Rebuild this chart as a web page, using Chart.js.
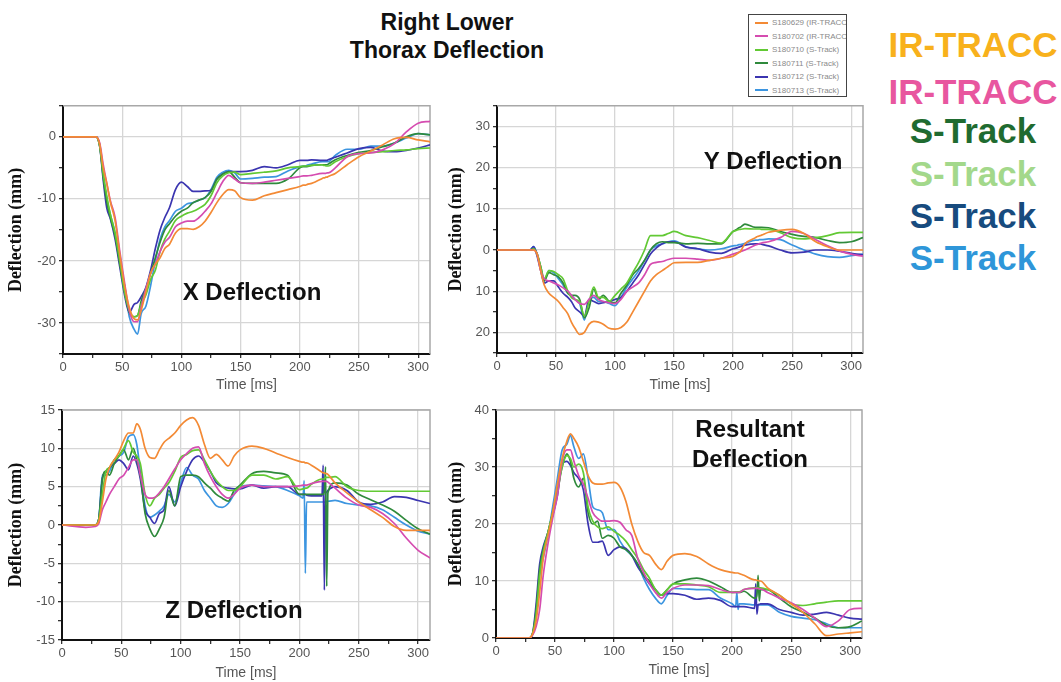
<!DOCTYPE html>
<html>
<head>
<meta charset="utf-8">
<script src="https://cdn.jsdelivr.net/npm/chart.js@4.4.1/dist/chart.umd.min.js"></script>
<style>
  body { margin: 0; background: #fff; width: 1061px; height: 682px; position: relative; overflow: hidden;
         font-family: "Liberation Sans", Arial, sans-serif; }
  #title { position: absolute; left: 297px; top: 8px; width: 300px; text-align: center;
           font-weight: bold; font-size: 23px; line-height: 28px; color: #111; }
  #legend { position: absolute; left: 748px; top: 14px; width: 99px; height: 83px; border: 1.5px solid #444;
            background: #fff; overflow: hidden; padding-top: 1px; box-sizing: border-box; }
  #legend .item { height: 13.5px; line-height: 13.5px; font-size: 8px; color: #8a8a8a; white-space: nowrap; }
  #legend .sw { display: inline-block; width: 13px; height: 2px; margin: 0 4px 0 6px; vertical-align: middle; }
  .tag { position: absolute; left: 873px; width: 200px; text-align: center; font-weight: bold;
         font-size: 35px; line-height: 35px; white-space: nowrap; }
</style>
</head>
<body>
<div id="title">Right Lower<br>Thorax Deflection</div>
<div id="legend"></div>

<script>
// time base shared by every trace (ms)
const time = [0,20,28,31,34,37,40,44,48,52,
  56,60,63,66,70,74,78,82,86,90,
  95,100,105,110,115,120,125,130,135,140,
  145,150,160,170,180,190,200,
  203,204,205,206,
  210,
  219,220,221,222,223,224,
  230,240,250,260,270,280,290,300,310];

const seriesNames = ['S180629 (IR-TRACC)','S180702 (IR-TRACC)','S180710 (S-Track)',
  'S180711 (S-Track)','S180712 (S-Track)','S180713 (S-Track)'];
const seriesColors = ['#f38a35','#d54cb0','#62c934','#2f8a3c','#3b35b0','#3c95e0'];

// X deflection
const xOrange = [0,0,0,-1.2,-5,-7.5,-10.5,-13.5,-19,-24,
  -27.5,-29.3,-29.5,-28,-25,-22,-20.5,-19.5,-18,-17.3,
  -15.5,-14.8,-14.8,-14.9,-14.5,-13.6,-12.2,-10.6,-9.3,-8.5,
  -8.7,-9.8,-10.2,-9.5,-9,-8.5,-8,
  -7.8,-7.8,-7.8,-7.7,
  -7.5,
  -6.7,-6.6,-6.6,-6.5,-6.5,-6.4,
  -5.9,-4.5,-3.2,-2.3,-1.3,-0.3,-0.1,-0.5,-0.8];
const xMagenta = [0,0,0,-1,-4.5,-7.5,-10.3,-13,-18.5,-23.5,
  -28,-29.8,-29.8,-27.5,-24.5,-22,-20.5,-18.5,-17,-16.2,
  -14.5,-13.9,-13.6,-13.6,-13,-12,-10.8,-9,-7.2,-6.2,
  -6.8,-7.4,-7.5,-7.3,-7,-6.7,-6.4,
  -6.3,-6.3,-6.3,-6.3,
  -6.2,
  -5.9,-5.9,-5.9,-5.9,-5.8,-5.8,
  -5,-3.2,-2.7,-2.6,-2.1,-1.1,0.8,2.2,2.5];
const xGreen = [0,0,0,-1.5,-6,-9.5,-12.5,-15.5,-20,-25,
  -28,-29,-28.8,-27,-25.5,-23,-21.5,-18.5,-16.5,-15.2,
  -13.5,-12.8,-12.3,-12,-11.5,-10.9,-9.5,-7.4,-6.3,-5.8,
  -5.7,-6.1,-5.9,-5.7,-5.5,-5,-4.8,
  -4.7,-4.7,-4.7,-4.7,
  -4.6,
  -4.5,-4.6,-4.6,-4.7,-4.7,-4.7,
  -4,-3.2,-2.7,-2.5,-2.4,-2.2,-2.1,-1.9,-1.8];
const xDkGreen = [0,0,0,-1.5,-6.5,-10.5,-13,-16,-20.5,-25,
  -28.3,-29,-28.8,-26.5,-24.5,-22,-19.5,-17,-15,-14,
  -12.8,-12,-11.5,-10.6,-10.2,-9.8,-8.8,-6.8,-6,-5.6,
  -6.5,-7.4,-7.5,-7.5,-7.5,-6.8,-5,
  -4.8,-4.8,-4.8,-4.8,
  -4.6,
  -4.5,-4.5,-4.5,-4.5,-4.5,-4.4,
  -3.7,-3,-2.5,-2.2,-1.6,-1,0,0.5,0.3];
const xIndigo = [0,0,0,-1.5,-7,-11.5,-13.2,-16.5,-21,-25.5,
  -28.3,-27,-26.7,-25.8,-24.3,-21.5,-18,-15,-13,-11.4,
  -8.5,-7.3,-8,-8.8,-8.8,-8.7,-8.6,-6.8,-6,-5.6,
  -5.6,-5.6,-5.4,-4.8,-5,-4.5,-3.8,
  -3.8,-3.8,-3.8,-3.8,
  -3.7,
  -3.8,-3.8,-3.8,-3.8,-3.8,-3.7,
  -3.3,-2.6,-1.9,-1.7,-2.3,-2.4,-2.2,-1.8,-1.3];
const xBlue = [0,0,0,-1.3,-6,-10,-12.5,-15.5,-20,-24,
  -29,-31,-31.8,-28.5,-27.3,-24,-20,-16.5,-14.5,-13.5,
  -12,-11.5,-10.8,-10.6,-10.2,-9.8,-8.5,-6.5,-5.7,-5.4,
  -5.8,-6.8,-6.7,-6.5,-6.4,-5.5,-4.8,
  -4.7,-4.7,-4.7,-4.6,
  -4.4,
  -4,-4,-4,-4,-4,-4,
  -3,-2,-2,-1.5,-1.5,-1,-0.2,0.5,0.3];

// Y deflection
const yOrange = [0,0,0,0,-1,-5,-8.5,-10.5,-11.5,-12.5,
  -14,-15.5,-17.5,-19,-20.5,-20,-18,-17.3,-17.5,-18,
  -19,-19.2,-18.8,-17.5,-15,-12.5,-10,-7.5,-6,-5,
  -4,-3.1,-3,-3,-2.5,-2,-1.5,
  -1,-0.8,-0.6,-0.4,
  1.5,
  3,3.2,3.3,3.4,3.5,3.6,
  4.3,4.8,5,4,2,0.8,0,0,0];
const yMagenta = [0,0,0,0,-1,-5,-7,-7.5,-8,-8.5,
  -9.2,-10,-11,-12,-13,-13.2,-12,-11,-12,-12.5,
  -12.8,-13,-12,-10,-9,-8,-6,-3.5,-3,-2.8,
  -2.3,-2,-2,-2.2,-2.5,-2,-1,
  -0.7,-0.6,-0.5,-0.4,
  0,
  1.2,1.3,1.4,1.5,1.6,1.7,
  2,3,4.5,4,2.5,1,-0.2,-1,-1.5];
const yGreen = [0,0,0,0.3,-1,-4,-7,-5,-5.2,-6,
  -7,-10,-11.5,-12,-12.5,-16,-12.5,-9,-11.5,-11.5,
  -12.5,-11,-9.5,-8,-5.5,-3,0,3.5,3.5,3.5,
  4,4.5,3.5,3,2.3,1.7,4.5,
  4.8,4.9,5,5,
  5.2,
  5.1,5.1,5.1,5.1,5.1,5,
  5,4.2,3,2.7,3,3.5,4.2,4.3,4.3];
const yDkGreen = [0,0,0,0.3,-1,-4,-7.5,-5.5,-6,-6.5,
  -8,-10.5,-11,-11,-12,-16.5,-14,-9.5,-12,-11,
  -12.5,-12.8,-10.5,-8.5,-6,-4.5,-2.5,0,1.5,2,
  1.8,1.8,1.5,1.6,1.5,1.5,4.5,
  5,5.2,5.4,5.5,
  6.3,
  5.5,5.5,5.5,5.5,5.5,5.5,
  5.4,4.5,3.8,3.3,3,2.3,1.8,2,3];
const yIndigo = [0,0,0,0.8,-1.5,-5,-8,-7.5,-7.5,-9,
  -10.5,-11.5,-12.5,-14,-15,-16,-12,-12.5,-13,-12.8,
  -12.5,-12,-11.5,-10,-8,-6,-3.5,-1,0.5,1.5,
  2,2,0.7,0.3,-0.5,-0.8,0.3,
  0.5,0.6,0.7,0.8,
  1.2,
  1.5,1.5,1.5,1.5,1.5,1.4,
  1,0,-0.7,-0.5,0,0,-0.3,-0.8,-1.2];
const yBlue = [0,0,0,0.8,-1,-4.5,-7.5,-5,-5.5,-7,
  -8.5,-10.5,-11,-12,-13,-17,-12,-11.5,-12.5,-12.5,
  -13,-13.5,-11.5,-9,-7,-5,-2.5,0,1,1.5,
  2,2.2,0.8,0.3,0,0.3,1,
  1.1,1.2,1.3,1.3,
  1.6,
  2.4,2.4,2.4,2.5,2.5,2.5,
  2.7,2.5,1.2,0,-1,-1.6,-1.8,-1.4,-1];

// Z deflection
const zOrange = [0,0,0,0.5,3,6,7.5,8.5,9.5,11,
  12,12,13.2,12.5,10,8.8,8.7,9.8,10.8,11.3,
  12,13,13.7,14,13,10.5,8.7,9.2,8.5,7.7,
  9,9.8,10.3,10,9.4,8.8,8.3,
  8.2,8.2,8.1,8.1,
  7.8,
  6.9,6.8,6.8,6.7,6.7,6.6,
  5.5,4.2,3,2,1,-0.2,-0.7,-0.7,-0.7];
const zMagenta = [0,-0.3,-0.2,0.2,2,3,4,5,6,6.5,
  7.5,8.5,8.5,6.5,4,3.5,3.6,4.2,5,6,
  7.3,8.5,9.3,10,10.2,8,6.3,5,4,3.5,
  4,4.8,5.2,5,5,5,5.1,
  5.2,5.2,5.2,5.2,
  5.4,
  5.7,5.7,5.7,5.7,5.7,5.6,
  4.8,3.5,2.6,2.3,1.5,0.2,-1.7,-3.3,-4.3];
const zGreen = [0,0,0,0.7,4,7,7.5,8.5,9,10,
  11,9.5,9,8,4,2.5,3.5,4,4.8,5.5,
  7,8.8,9.2,9.7,9.8,8.5,7,5.8,5,4.5,
  4.5,5,6.5,6.5,6,6.3,4.6,
  4.7,4.7,4.8,4.8,
  5.3,
  6,6,6,6.2,6.2,6.2,
  6.3,5,4.5,4.4,4.4,4.4,4.4,4.4,4.4];
const zDkGreen = [0,0,0,0.8,6,7,6.5,8,9,9.8,
  8.5,10,8.5,6.5,1.5,-0.5,-1.5,-0.5,1,4.5,
  2.5,6.3,6.5,6.5,6.3,5.5,4.8,4,3.5,3.1,
  4.5,5.2,6.7,7,6.8,6.5,4,
  4,4,4,4,
  4,
  4,4,4.3,7.6,-8,4.2,
  5.5,5.2,4,3.3,2.6,1.8,0.6,-0.5,-1.2];
const zIndigo = [0,0,0,0.8,6,7,7.5,8,8.5,8,
  7.2,9,8,6,2,1,0.2,1.5,2,5,
  2.5,5,7,8.5,9,8.2,7,5.5,5,4.8,
  4.7,4.7,5.2,4.8,5,5,4,
  4,4,4,3.9,
  3.8,
  3.8,7.8,-8.5,4,4.3,4.5,
  5,4.5,3,2.7,3,3.7,3.6,3.2,2.8];
const zBlue = [0,0,0,0.8,6.5,6.5,7,8.5,9,9.5,
  11.5,11.8,10.5,7,2.5,1,1.3,1.8,2.5,4,
  3,5.5,7.5,6.5,6,4.5,3.5,2.5,2.3,2.8,
  4,5,5.2,5.1,5,4.5,3.8,
  3.5,5.8,-6.3,3,
  3,
  3,3,3,3,3.1,3.1,
  3.2,2.8,2.6,2.5,2,1,0,-0.8,-1.2];

// Resultant deflection
const rOrange = [0,0,0,0.7,3,8,14,18,22,27,
  31.5,34.5,35.8,35,33.5,31,28.5,27.2,27,27,
  27.2,27.3,26.5,24,20,17,15,14.5,13,12,
  13.5,14.5,14.8,14.3,13,12,11.5,
  11.4,11.4,11.4,11.3,
  11,
  10.2,10.2,10.1,10.1,10,10,
  8.8,7.5,6,4.5,2.5,0.4,0.7,0.9,1.1];
const rMagenta = [0,0,0,0.5,2,5,11,16.5,21,25,
  31,33,33,31,28.5,27,24.5,22,21,20.5,
  20.5,20.6,20.3,19,18,14,11.5,9.5,8,7,
  8,8.7,9.3,9.3,9.2,8.5,8,
  8,8,8,8,
  8.5,
  8.7,8.7,8.7,8.7,8.6,8.6,
  8,7,6.2,5,3.5,2,3,5,5.2];
const rGreen = [0,0,0,0.8,4,11,15,18.5,22,25.5,
  30,32,31.5,30,30.5,29,23,20.5,19.5,19.2,
  19.5,18.7,18,17,15.5,14,12,10.5,8.5,7.5,
  8.5,9.5,9.5,9.3,9,8,8,
  8.1,8.1,8.1,8.1,
  8.5,
  8.8,8.8,8.8,8.8,8.8,8.8,
  8.5,7.5,6,5.7,6,6.3,6.5,6.5,6.5];
const rDkGreen = [0,0,0,0.8,5,12,15.5,18.5,22,26,
  30,32.3,31,28,26.5,28,22,20,20.5,17.5,
  18,17.5,16,15.5,14.5,13,11,10,8.5,7.5,
  8.5,9.5,10.2,10.5,10,9,8,
  8,8,8,8,
  8.2,
  7,7,7.5,11,6.5,8.5,
  8.5,7,5.5,4.5,3.5,2.2,1.8,2,3];
const rIndigo = [0,0,0,0.8,6,13,16,18.5,21.5,25,
  30.5,31,30.3,29,28,26,20,16.8,16.8,17,
  14.5,15.5,16,15.7,14.5,12.5,11,9.5,8.5,7.5,
  7.8,7.8,7.5,6.8,7,6.6,5.5,
  5.5,5.5,5.5,5.5,
  5.5,
  5.2,9.5,4.2,5.8,5.9,6,
  6,5,4.5,4,4.2,4.5,4,3.5,3.3];
const rBlue = [0,0,0,0.7,4,11,14,18,23,28,
  33,34,35.5,33.5,31.5,32.3,28,23,22.5,22,
  19,19,17,15.5,14.5,13,10.5,8.5,7,6,
  7.5,8.7,8.6,8.5,8.5,7,6,
  5.5,8,5,6,
  6,
  5.8,5.8,5.8,5.8,5.8,5.8,
  5.8,4.5,3.8,3.5,3.2,2.5,1.8,1.8,1.8];

// axis ticks (minor + labelled)
const timeTicks = [0,25,50,75,100,125,150,175,200,225,250,275,300];
const timeLabels = [0,50,100,150,200,250,300];
const xDefTicks = [-35,-30,-25,-20,-15,-10,-5,0,5];
const xDefLabels = [-30,-20,-10,0];
const yDefTicks = [-25,-20,-15,-10,-5,0,5,10,15,20,25,30,35];
const yDefLabels = [-20,-10,0,10,20,30];
const zDefTicks = [-15,-12.5,-10,-7.5,-5,-2.5,0,2.5,5,7.5,10,12.5,15];
const zDefLabels = [-15,-10,-5,0,5,10,15];
const rDefTicks = [0,5,10,15,20,25,30,35,40];
const rDefLabels = [0,10,20,30,40];

const tagTexts = ['IR-TRACC','IR-TRACC','S-Track','S-Track','S-Track','S-Track'];
const tagColors = ['#f8b11c','#e8569f','#1f6b30','#a3d88b','#174b7e','#2e96d9'];
const tagTops = [27, 74, 113, 156, 198, 240];

// legend box
const legend = document.getElementById('legend');
seriesNames.forEach((n, i) => {
  const d = document.createElement('div');
  d.className = 'item';
  d.innerHTML = `<span class="sw" style="background:${seriesColors[i]}"></span>${n}`;
  legend.appendChild(d);
});

// coloured sensor tags on the right
tagTexts.forEach((t, i) => {
  const d = document.createElement('div');
  d.className = 'tag';
  d.style.top = tagTops[i] + 'px';
  d.style.color = tagColors[i];
  d.textContent = t;
  document.body.appendChild(d);
});

const panels = [
  { left: 0, top: 95, w: 440, h: 300, padTop: 8, padRight: 10, yW: 63, xH: 41, tPad: 1,
    yMin: -35, yMax: 5, yTicks: xDefTicks, yLabels: xDefLabels, abs: false,
    series: [xOrange, xMagenta, xGreen, xDkGreen, xIndigo, xBlue],
    note: ['X Deflection'], noteX: 252, noteY: 196 },
  { left: 440, top: 95, w: 440, h: 300, padTop: 8, padRight: 17, yW: 57, xH: 42, tPad: 1,
    yMin: -25, yMax: 35, yTicks: yDefTicks, yLabels: yDefLabels, abs: true,
    series: [yOrange, yMagenta, yGreen, yDkGreen, yIndigo, yBlue],
    note: ['Y Deflection'], noteX: 333, noteY: 65 },
  { left: 0, top: 395, w: 440, h: 287, padTop: 15, padRight: 10, yW: 62, xH: 42, tPad: 0,
    yMin: -15, yMax: 15, yTicks: zDefTicks, yLabels: zDefLabels, abs: false,
    series: [zOrange, zMagenta, zGreen, zDkGreen, zIndigo, zBlue],
    note: ['Z Deflection'], noteX: 234, noteY: 214 },
  { left: 440, top: 395, w: 440, h: 287, padTop: 15, padRight: 18, yW: 56, xH: 44, tPad: 3,
    yMin: 0, yMax: 40, yTicks: rDefTicks, yLabels: rDefLabels, abs: false,
    series: [rOrange, rMagenta, rGreen, rDkGreen, rIndigo, rBlue],
    note: ['Resultant', 'Deflection'], noteX: 310, noteY: 33 }
];

// light frame on top/right + the big panel caption
const framePlugin = {
  id: 'frame',
  beforeDatasetsDraw(chart) {
    const a = chart.chartArea, c = chart.ctx;
    c.save();
    c.strokeStyle = '#a8a8a8';
    c.lineWidth = 1.5;
    c.beginPath();
    c.moveTo(a.left, a.top);
    c.lineTo(a.right, a.top);
    c.lineTo(a.right, a.bottom);
    c.stroke();
    c.restore();
  },
  afterDatasetsDraw(chart, args, opts) {
    const c = chart.ctx;
    c.save();
    c.font = 'bold 24px "Liberation Sans", Arial, sans-serif';
    c.fillStyle = '#111';
    c.textAlign = 'center';
    c.textBaseline = 'alphabetic';
    opts.lines.forEach((t, i) => c.fillText(t, opts.x, opts.y + 8.6 + i * 30));
    c.restore();
  }
};

const tickFont = { family: 'Liberation Sans', size: 13 };

panels.forEach(p => {
  const cv = document.createElement('canvas');
  cv.width = p.w;
  cv.height = p.h;
  cv.style.cssText = `position:absolute;left:${p.left}px;top:${p.top}px;width:${p.w}px;height:${p.h}px`;
  document.body.appendChild(cv);

  new Chart(cv, {
    type: 'line',
    data: {
      datasets: p.series.map((vals, i) => ({
        label: seriesNames[i],
        data: time.map((t, k) => ({ x: t, y: vals[k] })),
        borderColor: seriesColors[i],
        borderWidth: 1.7,
        pointRadius: 0,
        fill: false,
        cubicInterpolationMode: 'monotone'
      }))
    },
    options: {
      responsive: false,
      animation: false,
      layout: { padding: { left: 0, top: p.padTop, right: p.padRight, bottom: 0 } },
      plugins: {
        legend: { display: false },
        tooltip: { enabled: false },
        frame: { lines: p.note, x: p.noteX, y: p.noteY }
      },
      scales: {
        x: {
          type: 'linear', min: 0, max: 310,
          afterBuildTicks: s => { s.ticks = timeTicks.map(v => ({ value: v })); },
          afterFit: s => { s.height = p.xH; },
          ticks: {
            autoSkip: false, maxRotation: 0, color: '#555', font: tickFont, padding: 2,
            callback: v => timeLabels.includes(v) ? String(v) : ''
          },
          grid: {
            color: c => (c.tick && timeLabels.includes(c.tick.value)) ? '#d6d6d6' : 'rgba(0,0,0,0)',
            lineWidth: 1.3, tickLength: 4, tickColor: '#333', tickWidth: 1.3
          },
          border: { color: '#111', width: 2 },
          title: { display: true, text: 'Time [ms]', color: '#555',
                   font: { family: 'Liberation Sans', size: 14 }, padding: { top: 0, bottom: p.tPad } }
        },
        y: {
          type: 'linear', min: p.yMin, max: p.yMax,
          afterBuildTicks: s => { s.ticks = p.yTicks.map(v => ({ value: v })); },
          afterFit: s => { s.width = p.yW; },
          ticks: {
            autoSkip: false, color: '#555', font: tickFont, padding: 3,
            callback: v => p.yLabels.includes(v) ? String(p.abs ? Math.abs(v) : v) : ''
          },
          grid: {
            color: c => (c.tick && p.yLabels.includes(c.tick.value)) ? '#d6d6d6' : 'rgba(0,0,0,0)',
            lineWidth: 1.3, tickLength: 4, tickColor: '#333', tickWidth: 1.3
          },
          border: { color: '#111', width: 2 },
          title: { display: true, text: 'Deflection (mm)', color: '#111',
                   font: { family: 'Liberation Serif', size: 18, weight: 'bold' }, padding: { top: 6, bottom: 0 } }
        }
      }
    },
    plugins: [framePlugin]
  });
});
</script>
</body>
</html>
